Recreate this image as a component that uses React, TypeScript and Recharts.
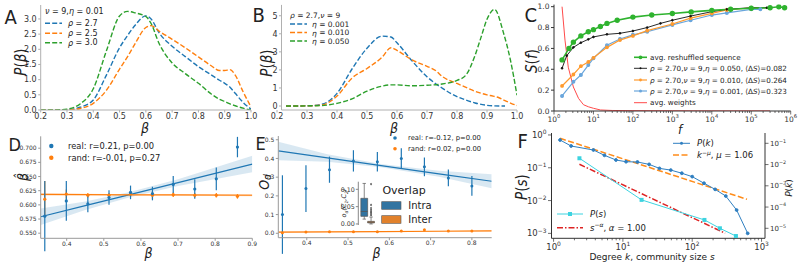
import React from 'react';
import {
  Area,
  ComposedChart,
  ErrorBar,
  Line,
  ReferenceArea,
  ReferenceLine,
  Scatter,
  XAxis,
  YAxis,
} from 'recharts';

const W = 810;
const H = 263;
const YW = 40;
const XH = 24;
const RW = 30;
const SANS = "'DejaVu Sans', sans-serif";
const NARROW = "'Liberation Sans Narrow', 'DejaVu Sans Condensed', sans-serif";

const BLUE = '#1f77b4';
const ORANGE = '#ff7f0e';
const GREEN = '#2ca02c';
const LIGHT_GREY = '#b0b0b0';
const DARK = '#333';

// ---- A: P(beta) for several rho ----
const aBeta = [0.2, 0.25, 0.3, 0.35, 0.4, 0.45, 0.5, 0.53, 0.56, 0.6, 0.62, 0.65, 0.7, 0.75, 0.8, 0.85, 0.88, 0.9, 0.92, 0.94, 0.97, 1.0];
const aRho27 = [0, 0, 0.01, 0.09, 0.33, 1.15, 2.05, 2.45, 2.8, 3.1, 3.0, 2.55, 2.1, 1.76, 1.43, 1.15, 0.98, 0.88, 0.75, 0.55, 0.25, 0.03];
const aRho25 = [0, 0, 0, 0.05, 0.22, 0.65, 1.35, 1.75, 2.2, 2.72, 2.78, 2.6, 2.33, 2.05, 1.75, 1.45, 1.3, 1.3, 1.33, 1.15, 0.6, 0.1];
const aRho30 = [0, 0, 0.03, 0.2, 0.7, 1.95, 3.1, 3.25, 3.2, 3.08, 2.85, 2.2, 1.55, 1.2, 0.88, 0.52, 0.35, 0.28, 0.2, 0.14, 0.06, 0];
const aXTicks = [0.2, 0.3, 0.4, 0.5, 0.6, 0.7, 0.8, 0.9, 1.0];
const aYTicks = [0, 0.5, 1, 1.5, 2, 2.5, 3];

// ---- B: P(beta) for several eta ----
const bBeta = [0.23, 0.3, 0.35, 0.4, 0.45, 0.5, 0.55, 0.58, 0.6, 0.65, 0.7, 0.73, 0.75, 0.8, 0.83, 0.86, 0.9, 0.92, 0.94, 0.96, 0.98, 1.0];
const bEta001 = [0, 0.01, 0.1, 0.7, 2.05, 3.2, 3.87, 3.82, 3.5, 2.5, 1.62, 1.22, 1.0, 0.52, 0.33, 0.17, 0.04, 0.01, 0, 0];
const bEta010 = [0, 0.01, 0.06, 0.55, 1.55, 2.08, 2.7, 3.23, 3.08, 2.55, 2.2, 1.95, 1.65, 1.25, 1.03, 0.82, 0.62, 0.55, 0.46, 0.3, 0.15, 0.03];
const bBetaG = [0.23, 0.3, 0.35, 0.4, 0.45, 0.5, 0.55, 0.58, 0.6, 0.65, 0.7, 0.75, 0.8, 0.83, 0.86, 0.88, 0.9, 0.925, 0.955, 0.978, 1.0];
const bEta050 = [0, 0.01, 0.03, 0.15, 0.4, 0.82, 1.1, 1.17, 1.17, 1.12, 1.15, 1.22, 1.42, 1.72, 2.8, 3.8, 4.8, 5.35, 4.05, 2.55, 0.6];
const bYTicks = [0, 1, 2, 3, 4, 5];

// ---- C: S(f) ----
const cGreenF = [1.6, 2.4, 3.1, 4.8, 7.4, 10, 15, 22, 40, 100, 300, 1000, 3000, 1e4, 3e4, 1e5, 3e5, 5e5, 7e5];
const cGreenS = [0.49, 0.6, 0.66, 0.72, 0.76, 0.78, 0.81, 0.84, 0.87, 0.9, 0.92, 0.935, 0.95, 0.965, 0.975, 0.985, 0.99, 1.0, 0.99];
const cBlackF = [1.6, 2.1, 3.1, 4.8, 7.4, 10, 22, 47, 100, 230, 500, 1000, 2900, 1e4, 2.4e4, 1e5, 2.5e5];
const cBlackS = [0.41, 0.53, 0.61, 0.655, 0.687, 0.71, 0.735, 0.745, 0.767, 0.8, 0.84, 0.87, 0.91, 0.952, 0.975, 0.99, 0.99];
const cOrangeF = [1.6, 3.1, 4.8, 7.4, 10, 22, 47, 100, 230, 1000, 2900, 1e4, 2.4e4, 1e5, 3e5];
const cOrangeS = [0.24, 0.35, 0.43, 0.47, 0.51, 0.61, 0.68, 0.72, 0.77, 0.834, 0.89, 0.936, 0.968, 0.99, 0.99];
const cBlueF = [1.6, 3.1, 4.8, 7.4, 10, 22, 47, 100, 230, 1000, 2900, 1e4, 2.4e4, 1e5, 1.7e5];
const cBlueS = [0.144, 0.28, 0.345, 0.44, 0.505, 0.63, 0.69, 0.73, 0.76, 0.825, 0.87, 0.92, 0.94, 0.975, 0.975];
const cRedF = [1.6, 1.9, 2.3, 3.1, 4.2, 5.6, 7.5, 10, 15, 30, 100, 1000, 1e4, 1e5, 3e5];
const cRedS = [1.0, 0.68, 0.42, 0.23, 0.12, 0.06, 0.04, 0.026, 0.01, 0.005, 0.003, 0.002, 0.001, 0.001, 0.001];
const cXMajor = [1, 10, 100, 1e3, 1e4, 1e5, 1e6];
const cYTicks = [0, 0.2, 0.4, 0.6, 0.8, 1.0];

// ---- D: beta-hat vs beta ----
const dBeta = [0.341, 0.399, 0.457, 0.514, 0.572, 0.631, 0.687, 0.745, 0.803, 0.86];
const dReal = [0.58, 0.607, 0.602, 0.613, 0.622, 0.62, 0.636, 0.628, 0.646, 0.702];
const dRealErr = [0.062, 0.035, 0.015, 0.013, 0.012, 0.012, 0.015, 0.017, 0.02, 0.018];
const dRand = [0.61, 0.619, 0.617, 0.617, 0.619, 0.617, 0.618, 0.617, 0.617, 0.615];
const dRandErr = [0.032, 0.008, 0.004, 0.004, 0.004, 0.007, 0.004, 0.004, 0.004, 0.004];
const dFitX = [0.33, 0.45, 0.57, 0.7, 0.9];
const dRealFit = [0.579, 0.5986, 0.6181, 0.6393, 0.672];
const dRealHalf = [0.0145, 0.0075, 0.0045, 0.006, 0.0145];
const dRandFit = [0.6185, 0.6182, 0.6178, 0.6175, 0.617];
const dRandHalf = [0.002, 0.0012, 0.001, 0.0012, 0.002];
const dXTicks = [0.4, 0.5, 0.6, 0.7, 0.8, 0.9];
const dYTicks = [0.55, 0.575, 0.6, 0.625, 0.65, 0.675, 0.7];

// ---- E: O_d vs beta ----
const eBeta = [0.341, 0.398, 0.455, 0.513, 0.571, 0.629, 0.685, 0.743, 0.8];
const eReal = [0.1, 0.239, 0.34, 0.387, 0.382, 0.4, 0.355, 0.296, 0.253];
const eRealErr = [0.21, 0.125, 0.07, 0.057, 0.052, 0.055, 0.05, 0.045, 0.053];
const eRand = [0.003, 0.007, 0.008, 0.008, 0.008, 0.012, 0.019, 0.012, 0.012];
const eRandErr = [0.004, 0.003, 0.003, 0.003, 0.003, 0.003, 0.004, 0.003, 0.003];
const eFitX = [0.331, 0.45, 0.58, 0.72, 0.848];
const eRealFit = [0.44, 0.403, 0.362, 0.318, 0.278];
const eRealHalf = [0.049, 0.02, 0.009, 0.016, 0.0375];
const eRandFit = [0.006, 0.0075, 0.009, 0.011, 0.013];
const eRandHalf = [0.003, 0.002, 0.0015, 0.002, 0.003];
const eXTicks = [0.4, 0.5, 0.6, 0.7, 0.8];
const eYTicks = [0, 0.1, 0.2, 0.3, 0.4, 0.5];

// inset box plot (Intra / Inter overlap)
const boxPos = [-0.2, 0.2];
const boxLow = [0.014, 0.0];
const boxQ1 = [0.022, 0.003];
const boxMed = [0.036, 0.005];
const boxQ3 = [0.074, 0.0075];
const boxHigh = [0.117, 0.02];
const boxFill = ['#3274a1', '#e1812c'];
const interOutliers = [0.025, 0.029, 0.033, 0.037, 0.041, 0.046, 0.055, 0.115];
const insetTicks = [0, 0.05, 0.1];

// ---- F: degree / community size distributions ----
const fK = [1.24, 1.79, 3.76, 5.42, 7.94, 11.1, 16.2, 23.9, 33.7, 49, 70.8, 100, 148, 214, 305, 437, 631];
const fPk = [0.143, 0.0746, 0.0484, 0.0272, 0.0164, 0.0136, 0.0132, 0.0102, 0.0066, 0.0055, 0.0039, 0.0027, 0.00132, 0.00068, 0.00033, 0.0000724, 0.0000058];
const fKFitX = [1.24, 617];
const fKFitY = [0.172, 0.000232];
const fS = [2.36, 18.6, 150, 251, 427];
const fPs = [0.195, 0.0105, 0.00257, 0.00143, 0.00083];
const fSFitX = [2.36, 299];
const fSFitY = [0.128, 0.00101];
const fXMajor = [1, 10, 100, 1000];
const fLeftTicks = [1, 0.1, 0.01, 0.001];
const fRightTicks = [0.1, 0.01, 0.001, 0.0001, 0.00001];

type Box = { x0: number; x1: number; y0: number; y1: number };
const boxA: Box = { x0: 40.7, x1: 251, y0: 5, y1: 110 };
const boxB: Box = { x0: 281.5, x1: 517, y0: 4.9, y1: 110 };
const boxC: Box = { x0: 554, x1: 790.7, y0: 4.6, y1: 111 };
const boxD: Box = { x0: 40.7, x1: 252.3, y0: 136.3, y1: 238.3 };
const boxE: Box = { x0: 278.3, x1: 491.7, y0: 136, y1: 237.7 };
const boxF: Box = { x0: 551.5, x1: 765, y0: 133, y1: 238.3 };
const boxIn: Box = { x0: 358.3, x1: 377, y0: 181.7, y1: 225 };

const zip = (xs: number[], ys: number[]) => xs.map((x, i) => ({ x, y: ys[i] }));
const zipErr = (xs: number[], ys: number[], es: number[]) => xs.map((x, i) => ({ x, y: ys[i], e: es[i] }));
const bandRows = (xs: number[], c: number[], h: number[]) => xs.map((x, i) => ({ x, band: [c[i] - h[i], c[i] + h[i]] }));
const minorLog = (lo: number, hi: number) => {
  const out: number[] = [];
  for (let d = lo; d <= hi; d++) for (let m = 2; m <= 9; m++) out.push(m * 10 ** d);
  return out;
};

const tk = (size: number) => ({ fontSize: size, fill: DARK, fontFamily: SANS });
const f1 = (v: number) => v.toFixed(1);
const f3 = (v: number) => v.toFixed(3);
const f2 = (v: number) => v.toFixed(2);
const sup = (e: number) => (e < 0 ? '\u2212' + -e : String(e));

function Frame({ box, right = 0, children }: { box: Box; right?: number; children: React.ReactNode }) {
  return (
    <div style={{ position: 'absolute', left: 0, top: 0 }}>
      <ComposedChart
        width={W}
        height={H}
        margin={{ left: box.x0 - YW, right: W - box.x1 - right, top: box.y0, bottom: H - box.y1 - XH }}
      >
        {children}
      </ComposedChart>
    </div>
  );
}

function LogXTick(props: any) {
  const { x, y, payload, fs, dy } = props;
  const lg = Math.log10(payload.value);
  const e = Math.round(lg);
  const major = Math.abs(lg - e) < 1e-6;
  return (
    <g>
      <line x1={x} x2={x} y1={y} y2={y + (major ? 3.5 : 2)} stroke={DARK} strokeWidth={0.7} />
      {major && (
        <text x={x} y={y + dy} textAnchor="middle" fontSize={fs} fill={DARK} fontFamily={SANS}>
          10<tspan dy={-fs * 0.45} fontSize={fs * 0.7}>{sup(e)}</tspan>
        </text>
      )}
    </g>
  );
}

function LogYTick(props: any) {
  const { x, y, payload, side, fs } = props;
  const e = Math.round(Math.log10(payload.value));
  const dir = side === 'right' ? 1 : -1;
  return (
    <g>
      <line x1={x} x2={x + dir * 3.5} y1={y} y2={y} stroke={DARK} strokeWidth={0.7} />
      <text
        x={x + dir * 5}
        y={y + fs * 0.35}
        textAnchor={side === 'right' ? 'start' : 'end'}
        fontSize={fs}
        fill={DARK}
        fontFamily={SANS}
      >
        10<tspan dy={-fs * 0.45} fontSize={fs * 0.7}>{sup(e)}</tspan>
      </text>
    </g>
  );
}

function linAxes(
  xDomain: number[],
  xTicks: number[],
  xFmt: (v: number) => string,
  yDomain: number[],
  yTicks: number[],
  yFmt: (v: number) => string,
  fs: number,
  spine: string,
) {
  return [
    <XAxis
      key="x"
      type="number"
      dataKey="x"
      domain={xDomain}
      ticks={xTicks}
      tickFormatter={xFmt}
      allowDataOverflow
      interval={0}
      height={XH}
      tick={tk(fs)}
      tickSize={2.5}
      tickMargin={0.5}
      axisLine={{ stroke: spine }}
      tickLine={{ stroke: spine }}
    />,
    <YAxis
      key="y"
      type="number"
      domain={yDomain}
      ticks={yTicks}
      tickFormatter={yFmt}
      allowDataOverflow
      interval={0}
      width={YW}
      tick={tk(fs)}
      tickSize={2.5}
      tickMargin={1.5}
      axisLine={{ stroke: spine }}
      tickLine={{ stroke: spine }}
    />,
  ];
}

function PanelA() {
  const dash = '5 2.2';
  return (
    <Frame box={boxA}>
      {linAxes([0.2, 1], aXTicks, f1, [0, 3.46], aYTicks, f1, 8, LIGHT_GREY)}
      <Line data={zip(aBeta, aRho27)} dataKey="y" type="monotone" stroke={BLUE} strokeWidth={1.4} strokeDasharray={dash} dot={false} isAnimationActive={false} />
      <Line data={zip(aBeta, aRho25)} dataKey="y" type="monotone" stroke={ORANGE} strokeWidth={1.4} strokeDasharray={dash} dot={false} isAnimationActive={false} />
      <Line data={zip(aBeta, aRho30)} dataKey="y" type="monotone" stroke={GREEN} strokeWidth={1.4} strokeDasharray={dash} dot={false} isAnimationActive={false} />
    </Frame>
  );
}

function PanelB() {
  const dash = '5 2.2';
  return (
    <Frame box={boxB}>
      {linAxes([0.215, 1], aXTicks, f1, [-0.22, 5.6], bYTicks, (v) => String(v), 8, LIGHT_GREY)}
      <Line data={zip(bBeta, bEta001)} dataKey="y" type="monotone" stroke={BLUE} strokeWidth={1.4} strokeDasharray={dash} dot={false} isAnimationActive={false} />
      <Line data={zip(bBeta, bEta010)} dataKey="y" type="monotone" stroke={ORANGE} strokeWidth={1.4} strokeDasharray={dash} dot={false} isAnimationActive={false} />
      <Line data={zip(bBetaG, bEta050)} dataKey="y" type="monotone" stroke={GREEN} strokeWidth={1.4} strokeDasharray={dash} dot={false} isAnimationActive={false} />
    </Frame>
  );
}

function PanelC() {
  return (
    <Frame box={boxC}>
      <XAxis
        type="number"
        dataKey="x"
        scale="log"
        domain={[1, 1e6]}
        ticks={[...cXMajor, ...minorLog(0, 5)]}
        allowDataOverflow
        interval={0}
        height={XH}
        tickSize={0}
        tickMargin={0}
        tickLine={false}
        axisLine={{ stroke: DARK }}
        tick={(p: any) => <LogXTick {...p} fs={7.5} dy={10.5} />}
      />
      <YAxis
        type="number"
        domain={[0, 1.02]}
        ticks={cYTicks}
        tickFormatter={f1}
        allowDataOverflow
        interval={0}
        width={YW}
        tick={tk(7.5)}
        tickSize={3}
        tickMargin={1.5}
        axisLine={{ stroke: DARK }}
        tickLine={{ stroke: DARK }}
      />
      <Line data={zip(cRedF, cRedS)} dataKey="y" stroke="#ff4a4a" strokeWidth={1} dot={false} isAnimationActive={false} />
      <Line data={zip(cBlueF, cBlueS)} dataKey="y" stroke="#6aa6dc" strokeWidth={1.2} dot={{ r: 1.4, fill: '#6aa6dc', stroke: '#6aa6dc' }} isAnimationActive={false} />
      <Line data={zip(cOrangeF, cOrangeS)} dataKey="y" stroke="#ff9a2e" strokeWidth={1.2} dot={{ r: 1.3, fill: '#ff9a2e', stroke: '#ff9a2e' }} isAnimationActive={false} />
      <Line data={zip(cBlackF, cBlackS)} dataKey="y" stroke="#111" strokeWidth={0.9} dot={{ r: 0.9, fill: '#111', stroke: '#111' }} isAnimationActive={false} />
      <Line data={zip(cGreenF, cGreenS)} dataKey="y" stroke="#2fb32f" strokeWidth={1.6} dot={{ r: 1.9, fill: '#2fb32f', stroke: '#2fb32f' }} isAnimationActive={false} />
    </Frame>
  );
}

const ptShape = (color: string, r: number) => (p: any) => <circle cx={p.cx} cy={p.cy} r={r} fill={color} />;

function PanelD() {
  return (
    <Frame box={boxD}>
      {linAxes([0.33, 0.9], dXTicks, f1, [0.541, 0.721], dYTicks, f3, 6, '#999')}
      <Area data={bandRows(dFitX, dRealFit, dRealHalf)} dataKey="band" stroke="none" fill={BLUE} fillOpacity={0.17} isAnimationActive={false} />
      <Area data={bandRows(dFitX, dRandFit, dRandHalf)} dataKey="band" stroke="none" fill={ORANGE} fillOpacity={0.25} isAnimationActive={false} />
      <Line data={zip(dFitX, dRealFit)} dataKey="y" stroke={BLUE} strokeWidth={1.2} dot={false} isAnimationActive={false} />
      <Line data={zip(dFitX, dRandFit)} dataKey="y" stroke={ORANGE} strokeWidth={1.2} dot={false} isAnimationActive={false} />
      <Scatter data={zipErr(dBeta, dRand, dRandErr)} dataKey="y" shape={ptShape(ORANGE, 1.6)} isAnimationActive={false}>
        <ErrorBar dataKey="e" direction="y" width={0} stroke={ORANGE} strokeWidth={1.2} isAnimationActive={false} />
      </Scatter>
      <Scatter data={zipErr(dBeta, dReal, dRealErr)} dataKey="y" shape={ptShape(BLUE, 1.6)} isAnimationActive={false}>
        <ErrorBar dataKey="e" direction="y" width={0} stroke={BLUE} strokeWidth={1.2} isAnimationActive={false} />
      </Scatter>
    </Frame>
  );
}

function PanelE() {
  return (
    <Frame box={boxE}>
      {linAxes([0.331, 0.848], eXTicks, f1, [-0.0236, 0.52], eYTicks, f1, 6, '#999')}
      <Area data={bandRows(eFitX, eRealFit, eRealHalf)} dataKey="band" stroke="none" fill={BLUE} fillOpacity={0.17} isAnimationActive={false} />
      <Area data={bandRows(eFitX, eRandFit, eRandHalf)} dataKey="band" stroke="none" fill={ORANGE} fillOpacity={0.25} isAnimationActive={false} />
      <Line data={zip(eFitX, eRealFit)} dataKey="y" stroke={BLUE} strokeWidth={1.2} dot={false} isAnimationActive={false} />
      <Line data={zip(eFitX, eRandFit)} dataKey="y" stroke={ORANGE} strokeWidth={1.2} dot={false} isAnimationActive={false} />
      <Scatter data={zipErr(eBeta, eRand, eRandErr)} dataKey="y" shape={ptShape(ORANGE, 1.5)} isAnimationActive={false}>
        <ErrorBar dataKey="e" direction="y" width={0} stroke={ORANGE} strokeWidth={1.2} isAnimationActive={false} />
      </Scatter>
      <Scatter data={zipErr(eBeta, eReal, eRealErr)} dataKey="y" shape={ptShape(BLUE, 1.5)} isAnimationActive={false}>
        <ErrorBar dataKey="e" direction="y" width={0} stroke={BLUE} strokeWidth={1.2} isAnimationActive={false} />
      </Scatter>
    </Frame>
  );
}

function Inset() {
  const edge = '#555';
  const half = 0.2;
  return (
    <Frame box={boxIn}>
      <XAxis type="number" dataKey="x" domain={[-0.55, 0.55]} allowDataOverflow height={XH} axisLine={false} tickLine={false} tick={false} />
      <YAxis
        type="number"
        domain={[-0.003, 0.122]}
        ticks={insetTicks}
        tickFormatter={f2}
        allowDataOverflow
        interval={0}
        width={YW}
        tick={tk(6.3)}
        tickSize={2.5}
        tickMargin={1}
        axisLine={{ stroke: '#888' }}
        tickLine={{ stroke: '#888' }}
      />
      {boxPos.map((x, i) => (
        <ReferenceLine key={'wl' + i} segment={[{ x, y: boxLow[i] }, { x, y: boxQ1[i] }]} stroke={edge} strokeWidth={0.7} />
      ))}
      {boxPos.map((x, i) => (
        <ReferenceLine key={'wh' + i} segment={[{ x, y: boxQ3[i] }, { x, y: boxHigh[i] }]} stroke={edge} strokeWidth={0.7} />
      ))}
      {boxPos.map((x, i) => (
        <ReferenceLine key={'cl' + i} segment={[{ x: x - half / 2, y: boxLow[i] }, { x: x + half / 2, y: boxLow[i] }]} stroke={edge} strokeWidth={0.7} />
      ))}
      {boxPos.map((x, i) => (
        <ReferenceLine key={'ch' + i} segment={[{ x: x - half / 2, y: boxHigh[i] }, { x: x + half / 2, y: boxHigh[i] }]} stroke={edge} strokeWidth={0.7} />
      ))}
      {boxPos.map((x, i) => (
        <ReferenceArea key={'b' + i} x1={x - half} x2={x + half} y1={boxQ1[i]} y2={boxQ3[i]} fill={boxFill[i]} fillOpacity={1} stroke={edge} strokeWidth={0.7} />
      ))}
      {boxPos.map((x, i) => (
        <ReferenceLine key={'m' + i} segment={[{ x: x - half, y: boxMed[i] }, { x: x + half, y: boxMed[i] }]} stroke={edge} strokeWidth={0.8} />
      ))}
      <Scatter
        data={interOutliers.map((y) => ({ x: boxPos[1], y }))}
        dataKey="y"
        shape={(p: any) => <path d={`M${p.cx},${p.cy - 1.3}L${p.cx + 1.1},${p.cy}L${p.cx},${p.cy + 1.3}L${p.cx - 1.1},${p.cy}Z`} fill="#555" />}
        isAnimationActive={false}
      />
    </Frame>
  );
}

function PanelF() {
  return (
    <Frame box={boxF} right={RW}>
      <XAxis
        type="number"
        dataKey="x"
        scale="log"
        domain={[10 ** -0.03, 10 ** 3.05]}
        ticks={[...fXMajor, ...minorLog(0, 2)]}
        allowDataOverflow
        interval={0}
        height={XH}
        tickSize={0}
        tickMargin={0}
        tickLine={false}
        axisLine={{ stroke: DARK }}
        tick={(p: any) => <LogXTick {...p} fs={8.5} dy={11.5} />}
      />
      <YAxis
        yAxisId="L"
        type="number"
        scale="log"
        domain={[10 ** -3.15, 10 ** 0.06]}
        ticks={fLeftTicks}
        allowDataOverflow
        interval={0}
        width={YW}
        tickSize={0}
        tickMargin={0}
        tickLine={false}
        axisLine={{ stroke: DARK }}
        tick={(p: any) => <LogYTick {...p} side="left" fs={8.5} />}
      />
      <YAxis
        yAxisId="R"
        orientation="right"
        type="number"
        scale="log"
        domain={[10 ** -5.47, 10 ** -0.515]}
        ticks={fRightTicks}
        allowDataOverflow
        interval={0}
        width={RW}
        tickSize={0}
        tickMargin={0}
        tickLine={false}
        axisLine={{ stroke: DARK }}
        tick={(p: any) => <LogYTick {...p} side="right" fs={7} />}
      />
      <Line yAxisId="L" data={zip(fSFitX, fSFitY)} dataKey="y" stroke="#dd2222" strokeWidth={1.5} strokeDasharray="6 2 1.5 2" dot={false} isAnimationActive={false} />
      <Line
        yAxisId="L"
        data={zip(fS, fPs)}
        dataKey="y"
        stroke="#3dd3e0"
        strokeWidth={1}
        dot={(p: any) => <rect key={p.index} x={p.cx - 2} y={p.cy - 2} width={4} height={4} fill="#3dd3e0" />}
        isAnimationActive={false}
      />
      <Line yAxisId="R" data={zip(fKFitX, fKFitY)} dataKey="y" stroke="#ff8c1a" strokeWidth={1.5} strokeDasharray="6 2.5" dot={false} isAnimationActive={false} />
      <Line yAxisId="R" data={zip(fK, fPk)} dataKey="y" stroke="#2f7fc1" strokeWidth={1} dot={{ r: 1.4, fill: '#2f7fc1', stroke: '#2f7fc1' }} isAnimationActive={false} />
    </Frame>
  );
}

function T({ x, y, s, children, anchor = 'start', fam = SANS, rot = false, italic = false }: any) {
  return (
    <text
      x={x}
      y={y}
      fontSize={s}
      fontFamily={fam}
      fill="#222"
      textAnchor={anchor}
      dominantBaseline="central"
      fontStyle={italic ? 'italic' : 'normal'}
      transform={rot ? `rotate(-90 ${x} ${y})` : undefined}
    >
      {children}
    </text>
  );
}

const I = ({ children }: any) => <tspan fontStyle="italic">{children}</tspan>;

function Overlay() {
  const dash = '5 2.2';
  return (
    <svg width={W} height={H} style={{ position: 'absolute', left: 0, top: 0, pointerEvents: 'none' }}>
      {/* panel letters */}
      <T x={4.5} y={16.5} s={20} fam={NARROW}>A</T>
      <T x={252.5} y={14.5} s={20} fam={NARROW}>B</T>
      <T x={524.5} y={15} s={20} fam={NARROW}>C</T>
      <T x={8.5} y={144.5} s={18} fam={NARROW}>D</T>
      <T x={255.5} y={143.5} s={18} fam={NARROW}>E</T>
      <T x={517.5} y={141} s={20} fam={NARROW}>F</T>

      {/* axis labels */}
      <T x={20.5} y={62} s={15} fam={NARROW} rot anchor="middle"><I>P</I>(<I>β</I>)</T>
      <T x={145} y={127.5} s={14} fam={NARROW} anchor="middle" italic>β</T>
      <T x={267} y={63} s={15} fam={NARROW} rot anchor="middle"><I>P</I>(<I>β</I>)</T>
      <T x={394} y={127.5} s={14} fam={NARROW} anchor="middle" italic>β</T>
      <T x={532} y={61} s={15} fam={NARROW} rot anchor="middle"><I>S</I>(<I>f</I>)</T>
      <T x={680} y={129} s={13} fam={NARROW} anchor="middle" italic>f</T>
      <T x={23} y={177} s={14} fam={NARROW} rot anchor="middle" italic>β̂</T>
      <T x={148.5} y={253} s={14} fam={NARROW} anchor="middle" italic>β</T>
      <T x={264} y={182} s={14} fam={NARROW} rot anchor="middle" italic>O<tspan dy={3} fontSize={10}>d</tspan></T>
      <T x={376.5} y={253} s={14} fam={NARROW} anchor="middle" italic>β</T>
      <T x={522} y={187} s={15} fam={NARROW} rot anchor="middle"><I>P</I>(<I>s</I>)</T>
      <T x={789} y={188} s={9} rot anchor="middle"><I>P</I>(<I>k</I>)</T>
      <T x={652} y={257} s={9} anchor="middle">Degree <I>k</I>, community size <I>s</I></T>

      {/* A legend */}
      <T x={45} y={11} s={8}><I>ν</I> = 9,<I>η</I> = 0.01</T>
      {[BLUE, ORANGE, GREEN].map((c, i) => (
        <line key={c} x1={45} x2={62} y1={[23.3, 33.3, 42.7][i]} y2={[23.3, 33.3, 42.7][i]} stroke={c} strokeWidth={1.4} strokeDasharray={dash} />
      ))}
      <T x={68} y={23.3} s={8}><I>ρ</I> = 2.7</T>
      <T x={68} y={33.3} s={8}><I>ρ</I> = 2.5</T>
      <T x={68} y={42.7} s={8}><I>ρ</I> = 3.0</T>

      {/* B legend */}
      <T x={290} y={15} s={7.5}><I>ρ</I> = 2.7,<I>ν</I> = 9</T>
      {[BLUE, ORANGE, GREEN].map((c, i) => (
        <line key={c} x1={290} x2={307} y1={[24, 32.5, 41][i]} y2={[24, 32.5, 41][i]} stroke={c} strokeWidth={1.4} strokeDasharray={dash} />
      ))}
      <T x={312} y={24} s={7.5}><I>η</I> = 0.001</T>
      <T x={312} y={32.5} s={7.5}><I>η</I> = 0.010</T>
      <T x={312} y={41} s={7.5}><I>η</I> = 0.050</T>

      {/* C legend */}
      <line x1={634} x2={647} y1={57.3} y2={57.3} stroke="#2fb32f" strokeWidth={1.6} />
      <circle cx={640.5} cy={57.3} r={1.9} fill="#2fb32f" />
      <line x1={634} x2={647} y1={68.3} y2={68.3} stroke="#111" strokeWidth={0.9} />
      <circle cx={640.5} cy={68.3} r={1} fill="#111" />
      <line x1={634} x2={647} y1={80} y2={80} stroke="#ff9a2e" strokeWidth={1.2} />
      <circle cx={640.5} cy={80} r={1.4} fill="#ff9a2e" />
      <line x1={634} x2={647} y1={91} y2={91} stroke="#6aa6dc" strokeWidth={1.2} />
      <circle cx={640.5} cy={91} r={1.5} fill="#6aa6dc" />
      <line x1={634} x2={647} y1={102.7} y2={102.7} stroke="#ff4a4a" strokeWidth={1} />
      <T x={650} y={57.3} s={7.2}>avg. reshuffled sequence</T>
      <T x={650} y={68.3} s={7.2}><I>ρ</I> = 2.70,<I>ν</I> = 9,<I>η</I> = 0.050, ⟨Δ<I>S</I>⟩=0.082</T>
      <T x={650} y={80} s={7.2}><I>ρ</I> = 2.70,<I>ν</I> = 9,<I>η</I> = 0.010, ⟨Δ<I>S</I>⟩=0.264</T>
      <T x={650} y={91} s={7.2}><I>ρ</I> = 2.70,<I>ν</I> = 9,<I>η</I> = 0.001, ⟨Δ<I>S</I>⟩=0.323</T>
      <T x={650} y={102.7} s={7.2}>avg. weights</T>

      {/* D legend */}
      <circle cx={51.3} cy={146} r={2.2} fill={BLUE} />
      <circle cx={51.3} cy={157.7} r={2.2} fill={ORANGE} />
      <T x={68} y={146} s={8.3}>real: r=0.21, p=0.00</T>
      <T x={68} y={157.7} s={8.3}>rand: r=-0.01, p=0.27</T>

      {/* E legend */}
      <circle cx={395} cy={138} r={1.8} fill={BLUE} />
      <circle cx={395} cy={148.7} r={1.8} fill={ORANGE} />
      <T x={408} y={138} s={6.8}>real: r=-0.12, p=0.00</T>
      <T x={408} y={148.7} s={6.8}>rand: r=0.02, p=0.00</T>

      {/* E inset label and Overlap legend */}
      <T x={344} y={203} s={6.5} rot anchor="middle" italic>
        o<tspan dy={1.5} fontSize={4.5}>d</tspan><tspan dy={-1.5}>(C</tspan><tspan dy={1.5} fontSize={4.5}>1</tspan><tspan dy={-1.5}>,C</tspan><tspan dy={1.5} fontSize={4.5}>2</tspan><tspan dy={-1.5}>)</tspan>
      </T>
      <T x={404} y={190} s={11} anchor="middle">Overlap</T>
      <rect x={381.7} y={201.7} width={19.3} height={7.6} fill="#3274a1" stroke="#555" strokeWidth={0.6} />
      <rect x={381.7} y={215.7} width={19.3} height={7.6} fill="#e1812c" stroke="#555" strokeWidth={0.6} />
      <T x={408.3} y={205.5} s={10}>Intra</T>
      <T x={408.3} y={219.5} s={10}>Inter</T>

      {/* F legends */}
      <line x1={673} x2={690} y1={143.3} y2={143.3} stroke="#2f7fc1" strokeWidth={1} />
      <circle cx={681.5} cy={143.3} r={1.5} fill="#2f7fc1" />
      <T x={697} y={143.3} s={8.5}><I>P</I>(<I>k</I>)</T>
      <line x1={673} x2={690} y1={155} y2={155} stroke="#ff8c1a" strokeWidth={1.5} strokeDasharray="6 2.5" />
      <T x={697} y={155} s={8.5}><I>k</I><tspan dy={-3.5} fontSize={6}>−<tspan fontStyle="italic">μ</tspan></tspan><tspan dy={3.5}>, </tspan><I>μ</I> = 1.06</T>
      <line x1={557} x2={583} y1={214} y2={214} stroke="#3dd3e0" strokeWidth={1} />
      <rect x={568} y={212} width={4} height={4} fill="#3dd3e0" />
      <T x={590} y={214} s={8.5}><I>P</I>(<I>s</I>)</T>
      <line x1={557} x2={583} y1={227.7} y2={227.7} stroke="#dd2222" strokeWidth={1.5} strokeDasharray="6 2 1.5 2" />
      <T x={590} y={227.7} s={8.5}><I>s</I><tspan dy={-3.5} fontSize={6}>−<tspan fontStyle="italic">α</tspan></tspan><tspan dy={3.5}>, </tspan><I>α</I> = 1.00</T>
    </svg>
  );
}

export default function App() {
  return (
    <div style={{ position: 'absolute', left: 0, top: 0, width: W, height: H, background: '#fff', overflow: 'hidden' }}>
      <PanelA />
      <PanelB />
      <PanelC />
      <PanelD />
      <PanelE />
      <Inset />
      <PanelF />
      <Overlay />
    </div>
  );
}
